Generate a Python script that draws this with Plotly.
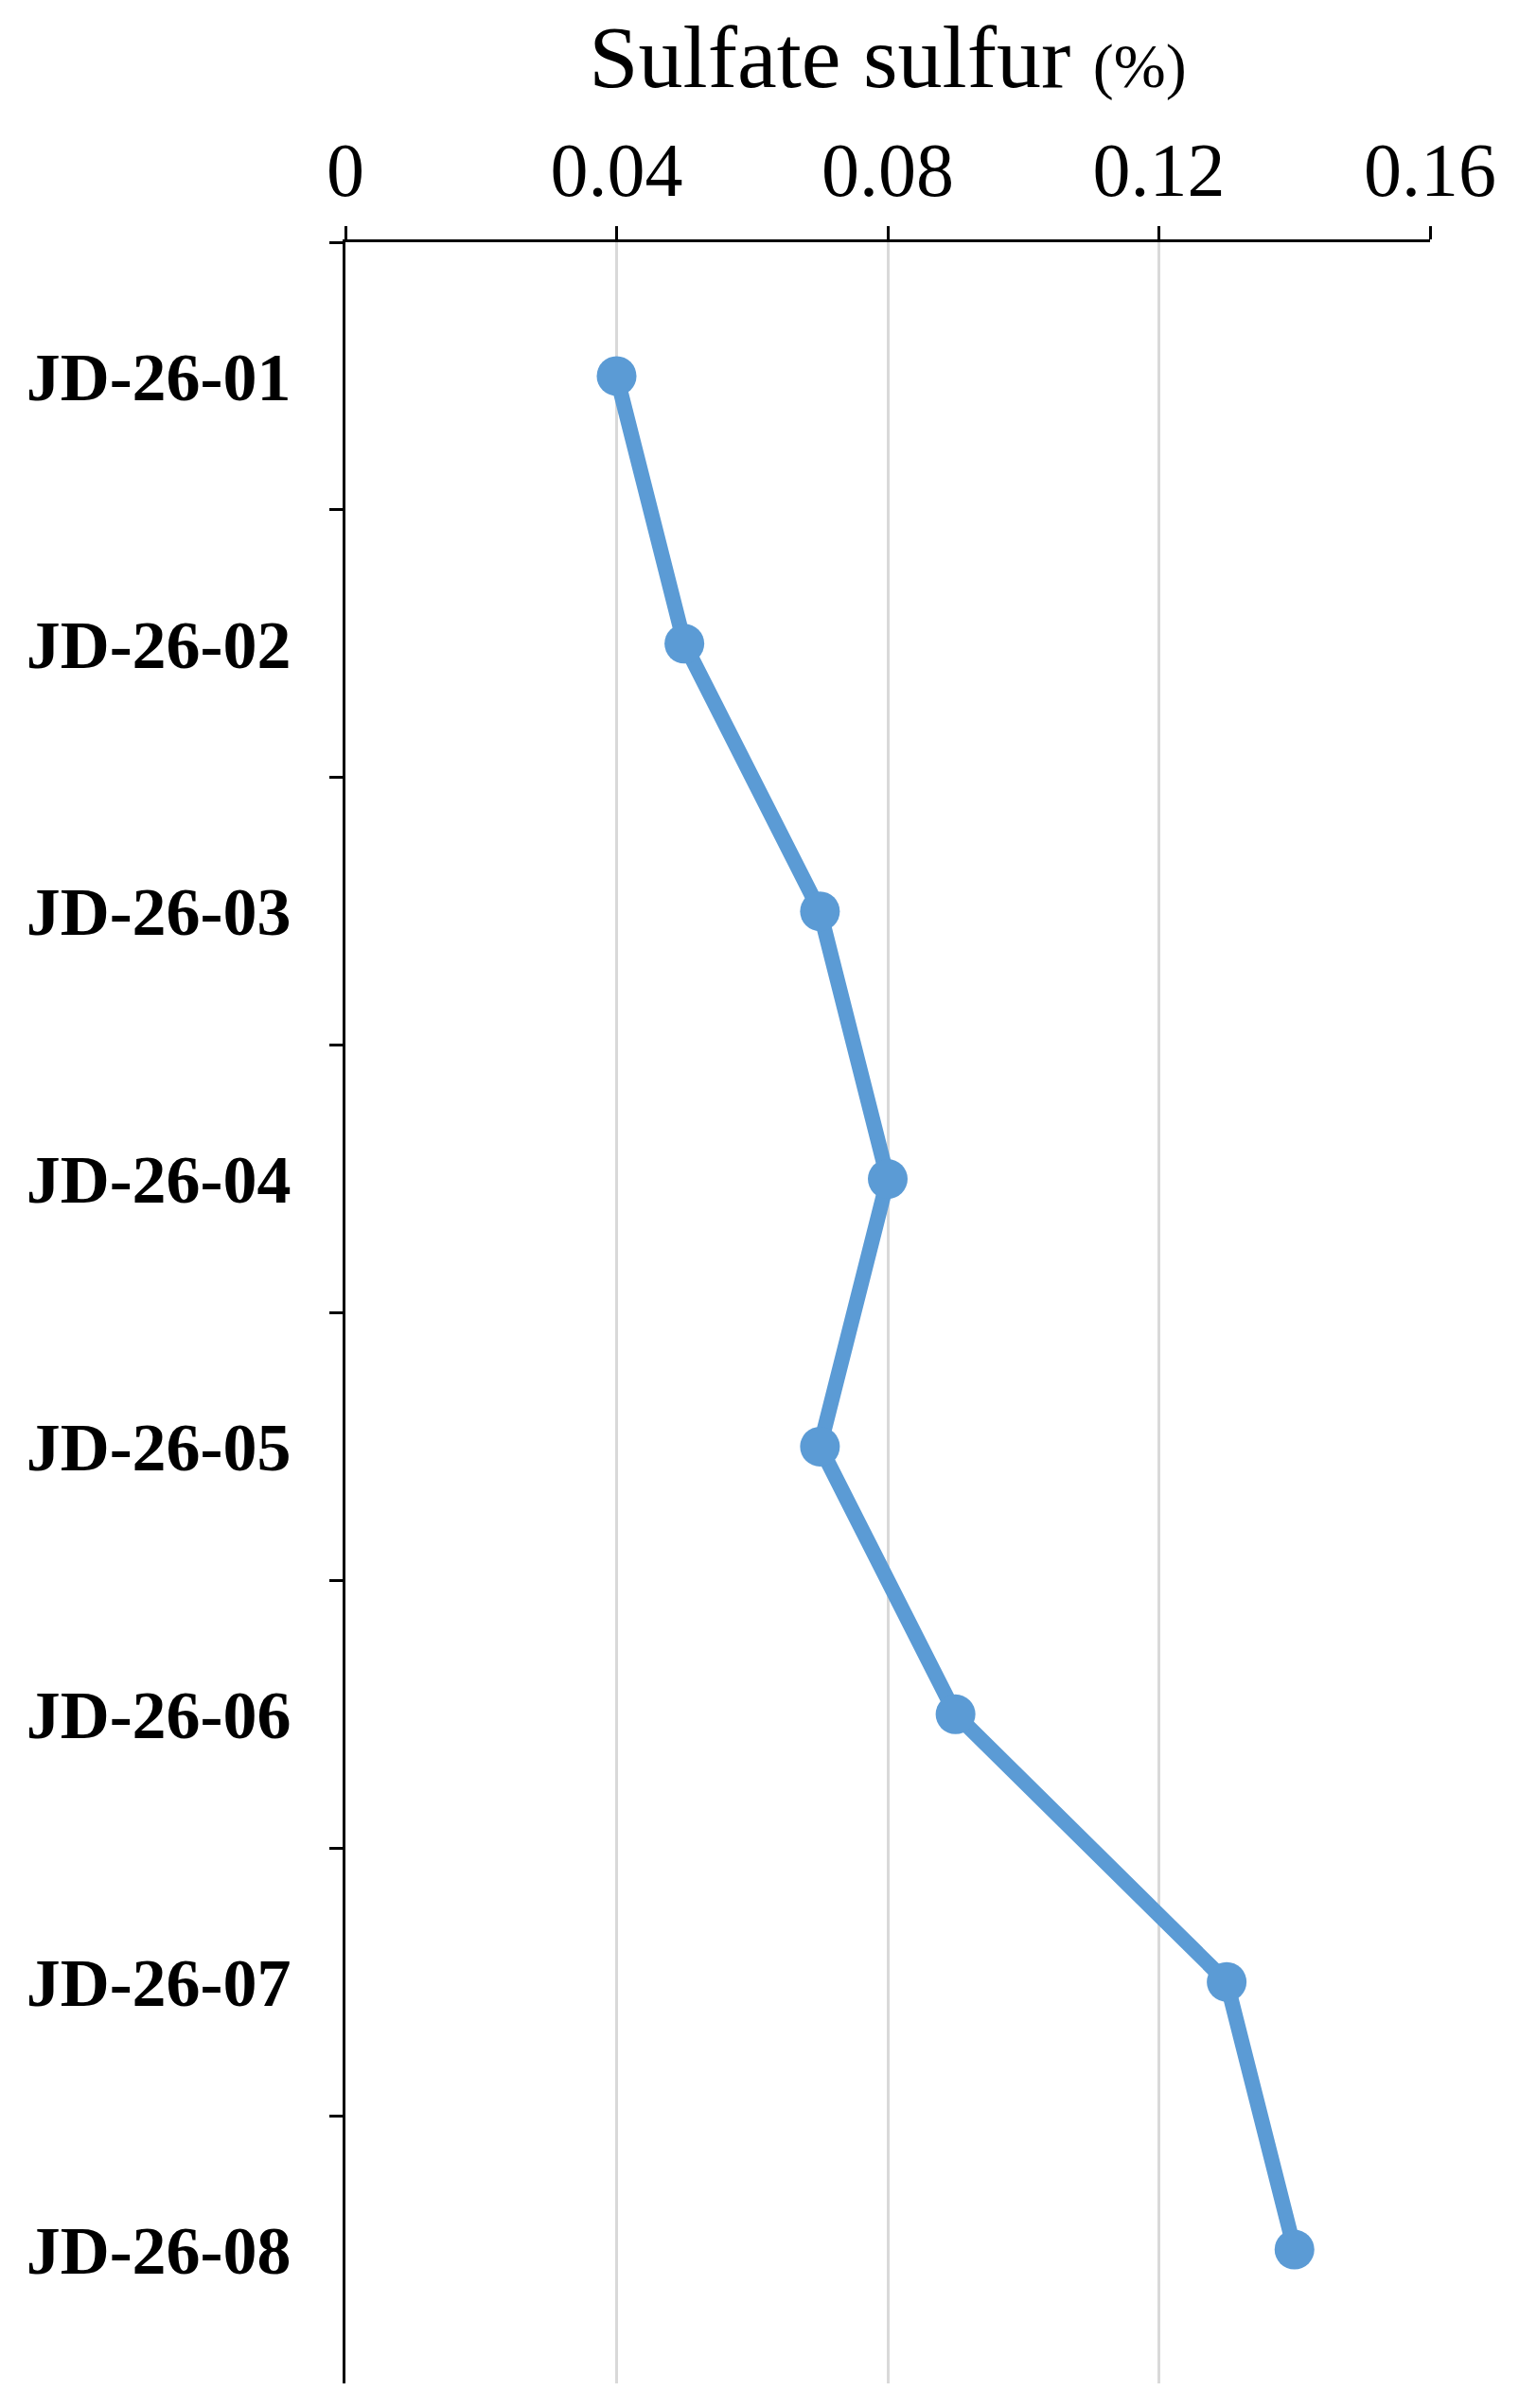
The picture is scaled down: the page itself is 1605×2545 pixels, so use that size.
import plotly.graph_objects as go

samples = ["JD-26-01","JD-26-02","JD-26-03","JD-26-04","JD-26-05","JD-26-06","JD-26-07","JD-26-08"]
sulfate = [0.04, 0.05, 0.07, 0.08, 0.07, 0.09, 0.13, 0.14]
xticks = [0, 0.04, 0.08, 0.12, 0.16]
xticklabels = ["0", "0.04", "0.08", "0.12", "0.16"]

font = "Liberation Serif"
fig = go.Figure(go.Scatter(
    x=sulfate, y=samples, mode="lines+markers",
    line=dict(color="#5B9BD5", width=16),
    marker=dict(color="#5B9BD5", size=42),
))
fig.update_layout(
    width=1605, height=2545, plot_bgcolor="white", paper_bgcolor="white",
    margin=dict(l=357, r=102, t=248, b=34), showlegend=False,
    font=dict(family=font, color="black"),
)
fig.update_xaxes(
    side="top", range=[0, 0.16], tickvals=xticks, ticktext=xticklabels,
    tickfont=dict(size=80, family=font), showgrid=True, gridcolor="#d9d9d9", gridwidth=3,
    showline=True, linecolor="black", linewidth=3, ticks="outside", ticklen=14,
    tickwidth=3, tickcolor="black", zeroline=False,
    title=dict(text="Sulfate sulfur <span style='font-size:66px'>(%)</span>",
               font=dict(size=94, family=font), standoff=18),
)
fig.update_yaxes(
    type="category", categoryorder="array", categoryarray=samples,
    autorange=False, range=[7.5, -0.5], tickson="boundaries",
    showline=True, linecolor="black", linewidth=3, ticks="outside", ticklen=14,
    tickwidth=3, tickcolor="black", showgrid=False,
    tickfont=dict(size=72, family=font, weight="bold"), ticklabelstandoff=40,
)
fig.write_html("out.html")
